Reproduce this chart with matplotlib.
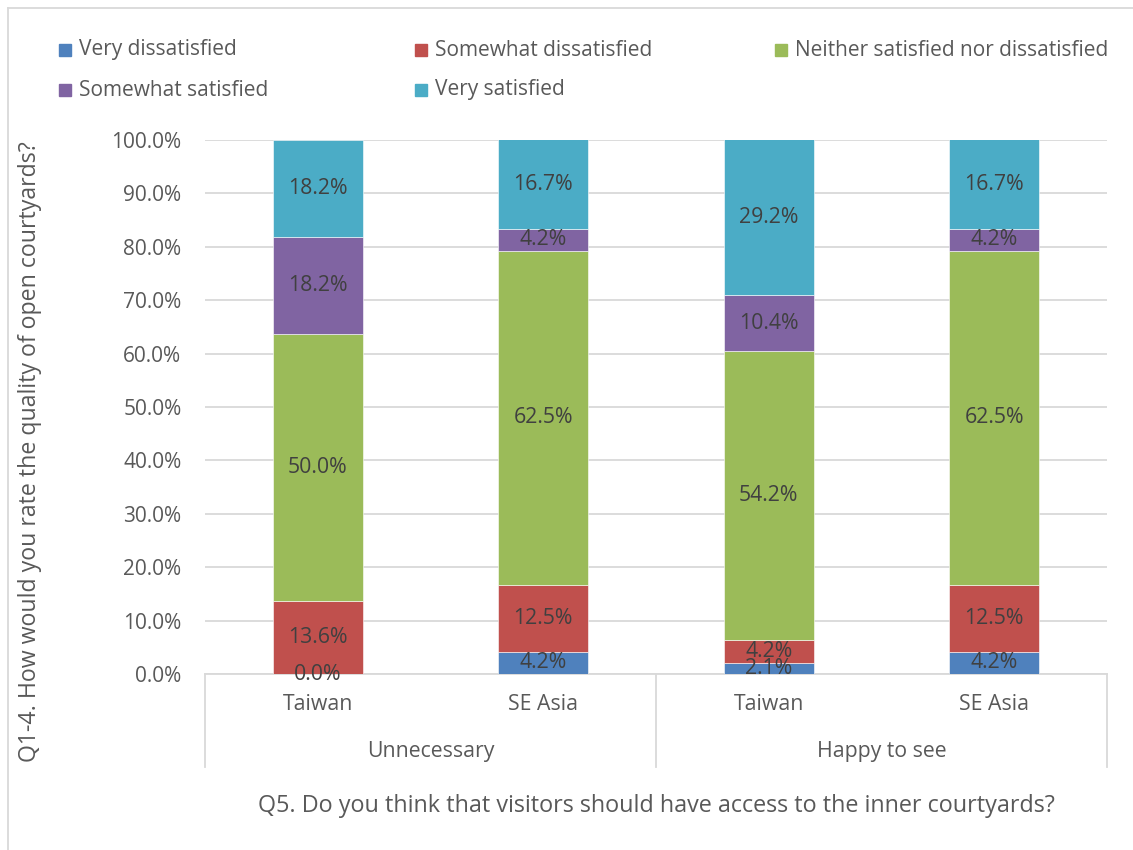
import matplotlib
matplotlib.use("Agg")
import matplotlib.pyplot as plt
from matplotlib.patches import Rectangle
from matplotlib.lines import Line2D
from matplotlib.ticker import FuncFormatter
import numpy as np

plt.rcParams['font.family'] = ['Open Sans', 'DejaVu Sans']

# Survey data (percent of respondents)
groups = ["Unnecessary", "Happy to see"]
regions = ["Taiwan", "SE Asia", "Taiwan", "SE Asia"]
series_names = ["Very dissatisfied", "Somewhat dissatisfied",
                "Neither satisfied nor dissatisfied", "Somewhat satisfied",
                "Very satisfied"]
very_dissatisfied = [0.0, 4.2, 2.1, 4.2]
somewhat_dissatisfied = [13.6, 12.5, 4.2, 12.5]
neither = [50.0, 62.5, 54.2, 62.5]
somewhat_satisfied = [18.2, 4.2, 10.4, 4.2]
very_satisfied = [18.2, 16.7, 29.2, 16.7]
series = [very_dissatisfied, somewhat_dissatisfied, neither,
          somewhat_satisfied, very_satisfied]
colors = ["#4F81BD", "#C0504D", "#9BBB59", "#8064A2", "#4BACC6"]

W, H = 1133, 850
fig = plt.figure(figsize=(W / 100, H / 100), dpi=100)
ax = fig.add_axes([205 / W, 1 - 674 / H, 902 / W, 534 / H])

x = np.arange(len(regions))
bottom = np.zeros(len(regions))
for vals, col in zip(series, colors):
    v = np.array(vals) / 100.0
    ax.bar(x, v, width=0.4, bottom=bottom, color=col, zorder=3,
           edgecolor="white", linewidth=0.4)
    for xi, b, h, raw in zip(x, bottom, v, vals):
        ax.text(xi, b + h / 2, f"{raw:.1f}%", ha="center", va="center",
                fontsize=15.3, color="#404040", zorder=4)
    bottom += v

ax.set_xlim(-0.5, len(regions) - 0.5)
ax.set_ylim(0, 1.0)
ax.set_yticks(np.arange(0, 1.01, 0.1))
ax.yaxis.set_major_formatter(FuncFormatter(lambda y, _: f"{y * 100:.1f}%"))
ax.tick_params(axis="y", length=0, labelsize=15, labelcolor="#595959", pad=17)
ax.grid(axis="y", color="#D9D9D9", linewidth=1.3, zorder=0)
for s in ["top", "right", "left"]:
    ax.spines[s].set_visible(False)
ax.spines["bottom"].set_color("#D9D9D9")
ax.spines["bottom"].set_linewidth(1.3)
ax.spines["bottom"].set_zorder(2)

# Two-level category axis
ax.set_xticks(x)
ax.set_xticklabels([])
ax.tick_params(axis="x", length=0)
trans = ax.get_xaxis_transform()
for xi, name in zip(x, regions):
    ax.text(xi, -0.058, name, transform=trans, ha="center", va="center",
            fontsize=15.3, color="#595959")
for gi, g in enumerate(groups):
    ax.text(2 * gi + 0.5, -0.146, g, transform=trans, ha="center",
            va="center", fontsize=15.3, color="#595959")
for xd in [-0.5, 1.5, 3.5]:
    ax.add_line(Line2D([xd, xd], [0, -0.174], transform=trans,
                       color="#D9D9D9", linewidth=1.3, clip_on=False))

ax.text(0.5, -0.247, "Q5. Do you think that visitors should have access to the inner courtyards?",
        transform=ax.transAxes, ha="center", va="center", fontsize=16.8,
        color="#595959")
fig.text(30 / W, 1 - 452 / H, "Q1-4. How would you rate the quality of open courtyards?",
         rotation=90, ha="center", va="center", fontsize=16.7, color="#595959")

# Legend laid out in three columns
leg_pos = [(59, 50), (415, 50), (775, 50), (59, 90), (415, 90)]
for (px, py), name, col in zip(leg_pos, series_names, colors):
    fig.patches.append(Rectangle((px / W, 1 - (py + 6) / H), 12 / W, 12 / H,
                                 transform=fig.transFigure, color=col))
    fig.text((px + 20) / W, 1 - py / H, name, ha="left", va="center",
             fontsize=15, color="#595959")

# Chart frame
fig.add_artist(Line2D([8 / W, 8 / W], [0, 1 - 8 / H], transform=fig.transFigure,
                      color="#D9D9D9", linewidth=1.3))
fig.add_artist(Line2D([8 / W, 1], [1 - 8 / H, 1 - 8 / H], transform=fig.transFigure,
                      color="#D9D9D9", linewidth=1.3))

fig.savefig("out.png", dpi=100, facecolor="white")
